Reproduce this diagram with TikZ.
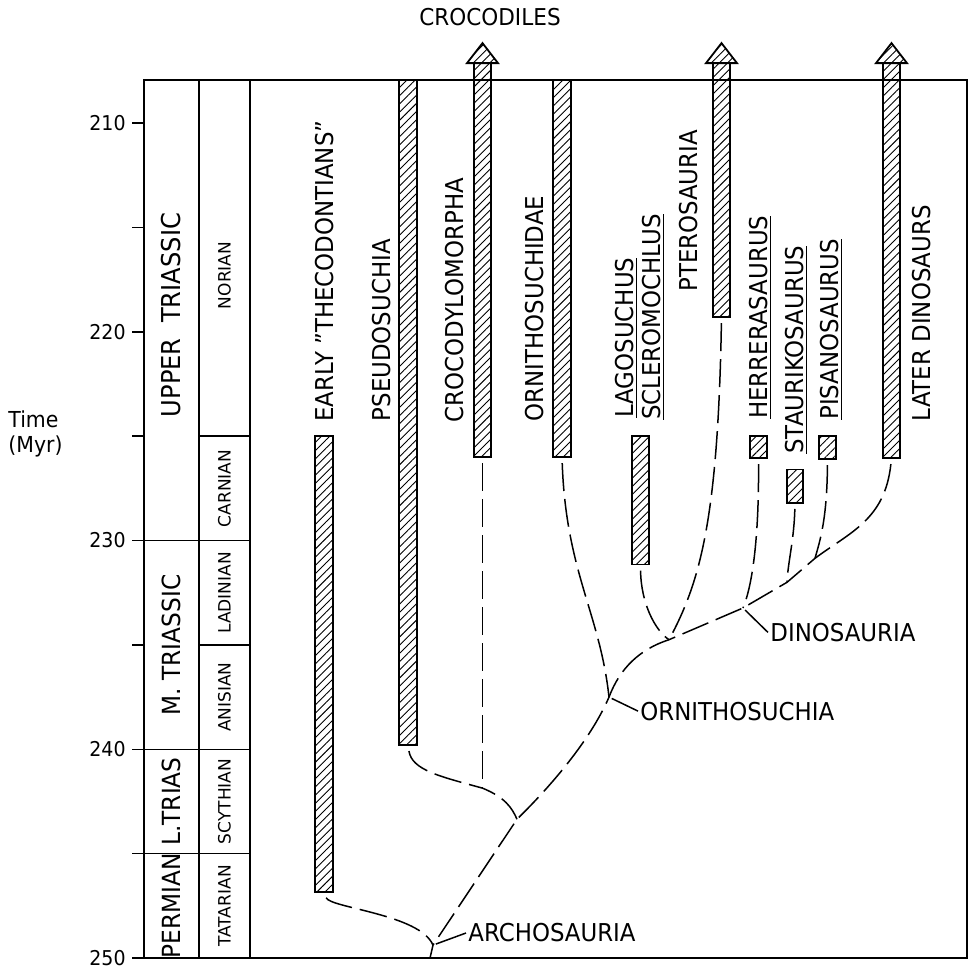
\documentclass[tikz,border=0pt]{standalone}
\usepackage{fontspec}
\setmainfont[FakeStretch=0.93]{DejaVu Sans}
\newfontfamily\stagefont{DejaVu Sans}
\usetikzlibrary{patterns.meta}

\begin{document}
\begin{tikzpicture}[x=0.5pt, y=-10.4375pt,
    bar/.style={draw, line width=0.9pt, pattern={Lines[angle=45, distance=2.9pt, line width=0.45pt]}},
    branch/.style={line width=0.75pt, dash pattern=on 14pt off 4pt, shorten <=3pt},
    taxon/.style={rotate=90, anchor=base west, inner sep=0pt, font=\fontsize{12.3}{14}\selectfont},
    period/.style={rotate=90, inner sep=0pt, font=\fontsize{12.5}{15}\selectfont},
    stage/.style={rotate=90, inner sep=0pt, font=\stagefont\fontsize{8.5}{10}\selectfont},
    clade/.style={anchor=west, inner sep=1pt, font=\fontsize{12.3}{14}\selectfont}]
  \useasboundingbox (0,204.108) rectangle (969,250.623);
  % Zeitskala
  \draw[line width=1pt] (144,207.94) rectangle (967,250);
  \draw[line width=0.8pt] (199,207.94) -- (199,250) (250,207.94) -- (250,250);
  \foreach \t in {230,240,245} \draw[line width=0.8pt] (144,\t) -- (250,\t);
  \foreach \t in {225,235} \draw[line width=0.8pt] (199,\t) -- (250,\t);
  \foreach \t in {210,215,...,250} \draw[line width=0.8pt] (132,\t) -- (144,\t);
  \foreach \t in {210,220,...,250} \node[anchor=east, inner sep=1pt, font=\fontsize{10.2}{12}\selectfont] (t\t) at (128,\t) {\t};
  \node[align=left, anchor=west, inner sep=0pt, font=\fontsize{11}{12.5}\selectfont] (time) at (8,224.9) {Time\\(Myr)};
  % Perioden und Stufen
  \node[period, font=\fontsize{13}{15}\selectfont] (upper) at (171.5,219.2) {UPPER\ \ TRIASSIC};
  \node[period] (mtrias) at (171.5,235) {M. TRIASSIC};
  \node[period] (ltrias) at (171.5,242.5) {L.TRIAS};
  \node[period] (permian) at (171.5,247.5) {PERMIAN};
  \node[stage] (norian) at (224.5,217.3) {NORIAN};
  \node[stage] (carnian) at (224.5,227.5) {CARNIAN};
  \node[stage] (ladinian) at (224.5,232.5) {LADINIAN};
  \node[stage] (anisian) at (224.5,237.5) {ANISIAN};
  \node[stage] (scythian) at (224.5,242.5) {SCYTHIAN};
  \node[stage] (tatarian) at (224.5,247.5) {TATARIAN};
  % Balken
  \draw[bar] (315,225) rectangle (333,246.84);
  \draw[bar] (399,207.94) rectangle (417,239.8);
  \draw[bar] (474,226) rectangle (491,207.13);
  \draw[bar] (467,207.13) -- (498,207.13) -- (482.5,206.17) -- cycle;
  \draw[bar] (553,207.94) rectangle (571,226);
  \draw[bar] (632,225) rectangle (649,231.15);
  \draw[bar] (713,219.3) rectangle (730,207.13);
  \draw[bar] (706,207.13) -- (737,207.13) -- (721.5,206.17) -- cycle;
  \draw[bar] (750,225) rectangle (767,226.05);
  \draw[bar] (787,226.6) rectangle (803,228.2);
  \draw[bar] (819,225) rectangle (836,226.1);
  \draw[bar] (883,226.05) rectangle (900,207.13);
  \draw[bar] (876,207.13) -- (907,207.13) -- (891.5,206.17) -- cycle;
  \coordinate (early-b) at (324,246.84);
  \coordinate (pseudo-b) at (408,239.8);
  \coordinate (croc-b) at (482.5,226);
  \coordinate (ornithid-b) at (562,226);
  \coordinate (lago-b) at (640.5,231.15);
  \coordinate (ptero-b) at (721.5,219.3);
  \coordinate (herrera-b) at (758.5,226.05);
  \coordinate (stauri-b) at (795,228.2);
  \coordinate (pisano-b) at (827.5,226.1);
  \coordinate (later-b) at (891.5,226.05);
  % Namen
  \node[taxon] (early) at (333,224.32) {EARLY "THECODONTIANS"};
  \node[taxon] (pseudo) at (390,224.3) {PSEUDOSUCHIA};
  \node[taxon] (croc) at (463,224.35) {CROCODYLOMORPHA};
  \node[taxon] (ornithid) at (543,224.3) {ORNITHOSUCHIDAE};
  \node[taxon] (lago) at (633,224.13) {\underline{LAGOSUCHUS}};
  \node[taxon] (sclero) at (660,224.23) {\underline{SCLEROMOCHLUS}};
  \node[taxon] (ptero) at (697,218.1) {PTEROSAURIA};
  \node[taxon] (herrera) at (767,224.18) {\underline{HERRERASAURUS}};
  \node[taxon] (stauri) at (803,225.86) {\underline{STAURIKOSAURUS}};
  \node[taxon] (pisano) at (838,224.23) {\underline{PISANOSAURUS}};
  \node[taxon] (later) at (930,224.3) {LATER DINOSAURS};
  \node[clade, anchor=center, font=\fontsize{11.6}{14}\selectfont] (crocodiles) at (490,204.92) {CROCODILES};
  % Stammbaum
  \coordinate (root) at (430,250);
  \coordinate (archo) at (433,249.38);
  \coordinate (pjoin) at (517,243.35);
  \coordinate (cjoin) at (482.5,241.86);
  \coordinate (ornitho) at (609,237.5);
  \coordinate (ljoin) at (669,234.75);
  \coordinate (dino) at (743,233.23);
  \coordinate (sjoin) at (787,232.0);
  \coordinate (pijoin) at (815,230.85);
  \draw[branch] (later-b) .. controls (885,229) and (850,229.6) .. (pijoin) -- (sjoin) -- (dino) -- (ljoin)
    .. controls (640,235.2) and (620,236.1) .. (ornitho) .. controls (590,239.6) and (550,241.8) .. (pjoin)
    -- (archo) -- (root);
  \draw[branch] (early-b) .. controls (330,247.6) and (420,247.9) .. (archo);
  \draw[branch] (pseudo-b) .. controls (412,241.0) and (440,241.3) .. (cjoin) .. controls (505,242.3) and (512,242.8) .. (pjoin);
  \draw[branch] (croc-b) -- (cjoin);
  \draw[branch] (ornithid-b) .. controls (566,231.5) and (600,233.5) .. (ornitho);
  \draw[branch] (lago-b) .. controls (641,233) and (655,234.3) .. (ljoin);
  \draw[branch] (ptero-b) .. controls (718,229) and (700,232) .. (ljoin);
  \draw[branch] (herrera-b) .. controls (759,230) and (752,232.2) .. (dino);
  \draw[branch] (stauri-b) .. controls (794,230) and (788,231) .. (sjoin);
  \draw[branch] (pisano-b) .. controls (827,229) and (820,230) .. (pijoin);
  % Kladen
  \node[clade] (archo-l) at (466,248.8) {ARCHOSAURIA};
  \node[clade] (ornitho-l) at (638,238.17) {ORNITHOSUCHIA};
  \node[clade] (dino-l) at (768,234.4) {DINOSAURIA};
  \draw[line width=0.75pt, shorten <=1.5pt] (archo) -- (archo-l.west);
  \draw[line width=0.75pt, shorten <=1.5pt] (ornitho) -- (ornitho-l.west);
  \draw[line width=0.75pt, shorten <=1.5pt] (dino) -- (dino-l.west);
\end{tikzpicture}
\end{document}
